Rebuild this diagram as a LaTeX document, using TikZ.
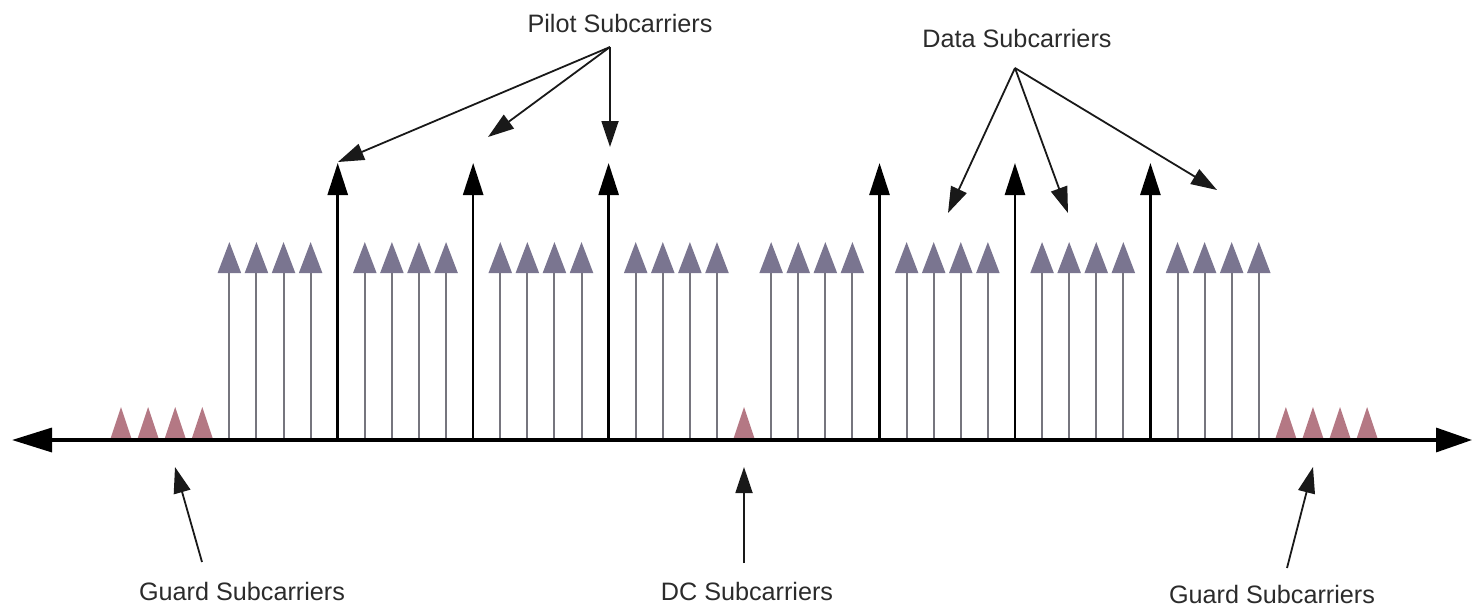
\documentclass[tikz,border=0pt]{standalone}
\usepackage{fontspec}
\setmainfont{Liberation Sans}
\usepackage{xcolor}
\usepackage{tikz}
\usetikzlibrary{arrows.meta, calc}
\definecolor{guardred}{HTML}{B47884}
\definecolor{datahead}{HTML}{7A7590}
\definecolor{datastem}{HTML}{76757E}
\definecolor{labelgray}{HTML}{2B2B2B}

\tikzset{
  axisline/.style={line width=1.7pt, {Triangle[length=20pt,width=12pt]}-{Triangle[length=18pt,width=12pt]}},
  datacarrier/.style={draw=datastem, line width=1pt, -{Triangle[length=15.5pt,width=11.5pt,color=datahead]}},
  pilotcarrier/.style={draw=black, line width=1.3pt, -{Triangle[length=16pt,width=10pt]}},
  pointer/.style={draw=black!90, line width=0.9pt, -{Triangle[length=13pt,width=8.5pt]}},
  guardtri/.style={fill=guardred},
  carrierlabel/.style={font=\fontsize{12.6}{15}\selectfont, text=labelgray, inner sep=0pt}
}

\begin{document}
\begin{tikzpicture}[x=0.5pt, y=0.5pt]
  \useasboundingbox (0,-167) rectangle (1473,440);

  % guard and DC subcarriers
  \foreach \k in {0,1,2,3,23,43,44,45,46}
    \fill[guardtri] ({121+27.09*\k-11},0) -- ({121+27.09*\k},33) -- ({121+27.09*\k+11},0) -- cycle;

  % data subcarriers
  \foreach \g in {4,9,14,19,24,29,34,39}
    \foreach \i in {0,...,3}
      \draw[datacarrier] ({121+27.09*(\g+\i)},0) -- ({121+27.09*(\g+\i)},198);

  % pilot subcarriers
  \foreach \k in {8,13,18,28,33,38}
    \draw[pilotcarrier] ({121+27.09*\k},0) -- ({121+27.09*\k},277);

  % frequency axis
  \coordinate (axl) at (12,0);
  \coordinate (axr) at (1472,0);
  \draw[axisline] (axl) -- (axr);

  % labels
  \node[carrierlabel] (pilot) at (620,417) {Pilot Subcarriers};
  \node[carrierlabel] (data) at (1017,402) {Data Subcarriers};
  \node[carrierlabel] (guardl) at (242,-151) {Guard Subcarriers};
  \node[carrierlabel] (dc) at (747,-151) {DC Subcarriers};
  \node[carrierlabel] (guardr) at (1272,-154) {Guard Subcarriers};

  % pointers
  \coordinate (pilotsrc) at (610,393);
  \coordinate (pilota) at (338,278);
  \coordinate (pilotb) at (488,303);
  \coordinate (pilotc) at (610,293);
  \draw[pointer] (pilotsrc) -- (pilota);
  \draw[pointer] (pilotsrc) -- (pilotb);
  \draw[pointer] (pilotsrc) -- (pilotc);

  \coordinate (datasrc) at (1015,372);
  \coordinate (dataa) at (948,227);
  \coordinate (datab) at (1068,227);
  \coordinate (datac) at (1217,250);
  \draw[pointer] (datasrc) -- (dataa);
  \draw[pointer] (datasrc) -- (datab);
  \draw[pointer] (datasrc) -- (datac);

  \coordinate (guardlsrc) at (202,-122);
  \coordinate (guardltip) at (175,-27);
  \draw[pointer] (guardlsrc) -- (guardltip);

  \coordinate (dcsrc) at (744,-123);
  \coordinate (dctip) at (744,-27);
  \draw[pointer] (dcsrc) -- (dctip);

  \coordinate (guardrsrc) at (1287,-128);
  \coordinate (guardrtip) at (1313,-27);
  \draw[pointer] (guardrsrc) -- (guardrtip);
\end{tikzpicture}
\end{document}
